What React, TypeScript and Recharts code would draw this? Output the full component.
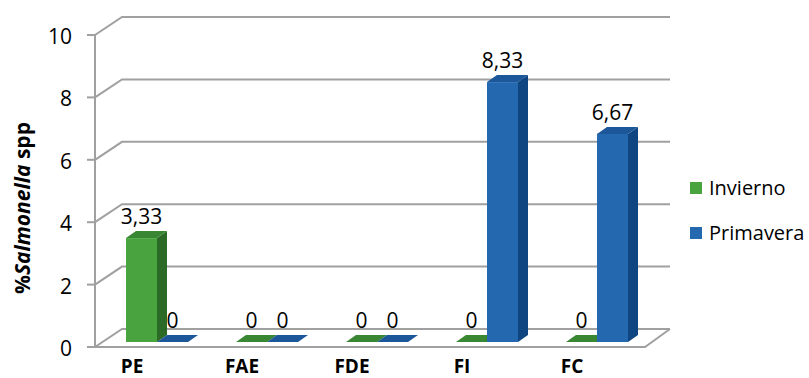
import React from 'react';
import { Bar, BarChart, CartesianGrid, LabelList, Legend, XAxis, YAxis } from 'recharts';

const categories = ['PE', 'FAE', 'FDE', 'FI', 'FC'];
const invierno = [3.33, 0, 0, 0, 0];
const primavera = [0, 0, 0, 8.33, 6.67];
const yTicks = [0, 2, 4, 6, 8, 10];

const data = categories.map((name, i) => ({
  name,
  invierno: invierno[i],
  primavera: primavera[i],
}));

const FONT = '"Open Sans", "DejaVu Sans", sans-serif';
const GRID = '#a0a0a0';

// 3d look: depth of a bar, and where the front / back walls sit around the bar plane
const DEPTH_X = 10;
const DEPTH_Y = -7;
const FRONT_DX = -7;
const FRONT_DY = 5;
const BACK_DX = 20;
const BACK_DY = -13;
const RIGHT_DX = 18;

const LEGEND_W = 119;

const green = { front: '#49a43f', top: '#3a8733', side: '#2c6b27' };
const blue = { front: '#2468b0', top: '#1c5899', side: '#0f4580' };

function bar3d(c: { front: string; top: string; side: string }) {
  return (p: any) => {
    const { x, y, width: w, height: h } = p;
    const top = `${x},${y} ${x + DEPTH_X},${y + DEPTH_Y} ${x + w + DEPTH_X},${y + DEPTH_Y} ${x + w},${y}`;
    const side = `${x + w},${y} ${x + w + DEPTH_X},${y + DEPTH_Y} ${x + w + DEPTH_X},${y + h + DEPTH_Y} ${x + w},${y + h}`;
    return (
      <g>
        {h > 0 && <rect x={x} y={y} width={w} height={h} fill={c.front} />}
        {h > 0 && <polygon points={side} fill={c.side} />}
        <polygon points={top} fill={c.top} />
      </g>
    );
  };
}

function gridLine(p: any) {
  const { x1, x2, y1, y, height, index } = p;
  const fx = x1 + FRONT_DX;
  const fy = y1 + FRONT_DY;
  const bx = x1 + BACK_DX;
  const by = y1 + BACK_DY;
  const rx = x2 + RIGHT_DX;
  const isFloor = Math.abs(y1 - (y + height)) < 0.5;
  const line = { fill: 'none', stroke: GRID, strokeWidth: 2 };
  return (
    <g key={`grid-${index}`}>
      <path d={`M${fx},${fy}L${bx},${by}L${rx},${by}`} {...line} />
      <line x1={fx - 8} y1={fy} x2={fx} y2={fy} {...line} />
      {isFloor && <path d={`M${fx},${fy}L${x2 + FRONT_DX},${fy}L${rx},${by}`} {...line} />}
      {isFloor && <line x1={fx} y1={y + FRONT_DY} x2={fx} y2={fy} {...line} />}
    </g>
  );
}

function YTick(p: any) {
  const { x, y, payload } = p;
  return (
    <text x={x - 30} y={y + FRONT_DY + 1} textAnchor="end" dominantBaseline="central" fontFamily={FONT} fontSize={21} fill="#000">
      {payload.value}
    </text>
  );
}

function XTick(p: any) {
  const { x, y, payload } = p;
  return (
    <text x={x - 25} y={y + 31} textAnchor="middle" fontFamily={FONT} fontWeight={700} fontSize={19} fill="#000">
      {payload.value}
    </text>
  );
}

function YTitle(p: any) {
  const vb = p.viewBox ?? { x: 0, y: 30, height: 312 };
  const cx = vb.x + 22;
  const cy = vb.y + vb.height / 2 + 22;
  return (
    <text
      x={cx}
      y={cy}
      transform={`rotate(-90, ${cx}, ${cy})`}
      textAnchor="middle"
      dominantBaseline="central"
      fontFamily={FONT}
      fontWeight={700}
      fontSize={21}
      fill="#000"
    >
      <tspan>%</tspan>
      <tspan fontStyle="italic">Salmonella</tspan>
      <tspan> spp</tspan>
    </text>
  );
}

function ValueLabel(p: any) {
  const vb = p.viewBox ?? p;
  const { x, y, width } = vb;
  return (
    <text x={x + width / 2} y={y - 22} textAnchor="middle" dominantBaseline="central" fontFamily={FONT} fontSize={21} fill="#000">
      {String(p.value).replace('.', ',')}
    </text>
  );
}

function LegendBox(p: any) {
  const items = p.payload ?? [];
  return (
    <div style={{ fontFamily: FONT, fontSize: 20, color: '#000' }}>
      {items.map((it: any) => (
        <div key={it.value} style={{ display: 'flex', alignItems: 'center', height: 45, whiteSpace: 'nowrap' }}>
          <span style={{ display: 'inline-block', width: 12, height: 12, background: it.color, marginRight: 7 }} />
          <span>{it.value}</span>
        </div>
      ))}
    </div>
  );
}

export default function App() {
  return (
    <div style={{ position: 'absolute', left: 0, top: 0, background: '#fff' }}>
      <BarChart
        width={809}
        height={378}
        data={data}
        margin={{ top: 30, right: 157 - LEGEND_W, bottom: 0, left: 0 }}
        barGap={0}
        barSize={31}
      >
        <CartesianGrid vertical={false} horizontal={gridLine} />
        <XAxis dataKey="name" height={36} axisLine={false} tickLine={false} tickSize={0} tickMargin={0} tick={XTick} interval={0} />
        <YAxis
          domain={[0, 10]}
          ticks={yTicks}
          width={102}
          axisLine={false}
          tickLine={false}
          tickSize={0}
          tickMargin={0}
          tick={YTick}
          interval={0}
          label={{ content: YTitle }}
        />
        <Legend
          layout="vertical"
          verticalAlign="middle"
          align="right"
          content={LegendBox}
          wrapperStyle={{ left: 690, top: 165, width: LEGEND_W }}
        />
        <Bar dataKey="invierno" name="Invierno" fill={green.front} shape={bar3d(green)} isAnimationActive={false}>
          <LabelList dataKey="invierno" content={ValueLabel} />
        </Bar>
        <Bar dataKey="primavera" name="Primavera" fill={blue.front} shape={bar3d(blue)} isAnimationActive={false}>
          <LabelList dataKey="primavera" content={ValueLabel} />
        </Bar>
      </BarChart>
    </div>
  );
}
